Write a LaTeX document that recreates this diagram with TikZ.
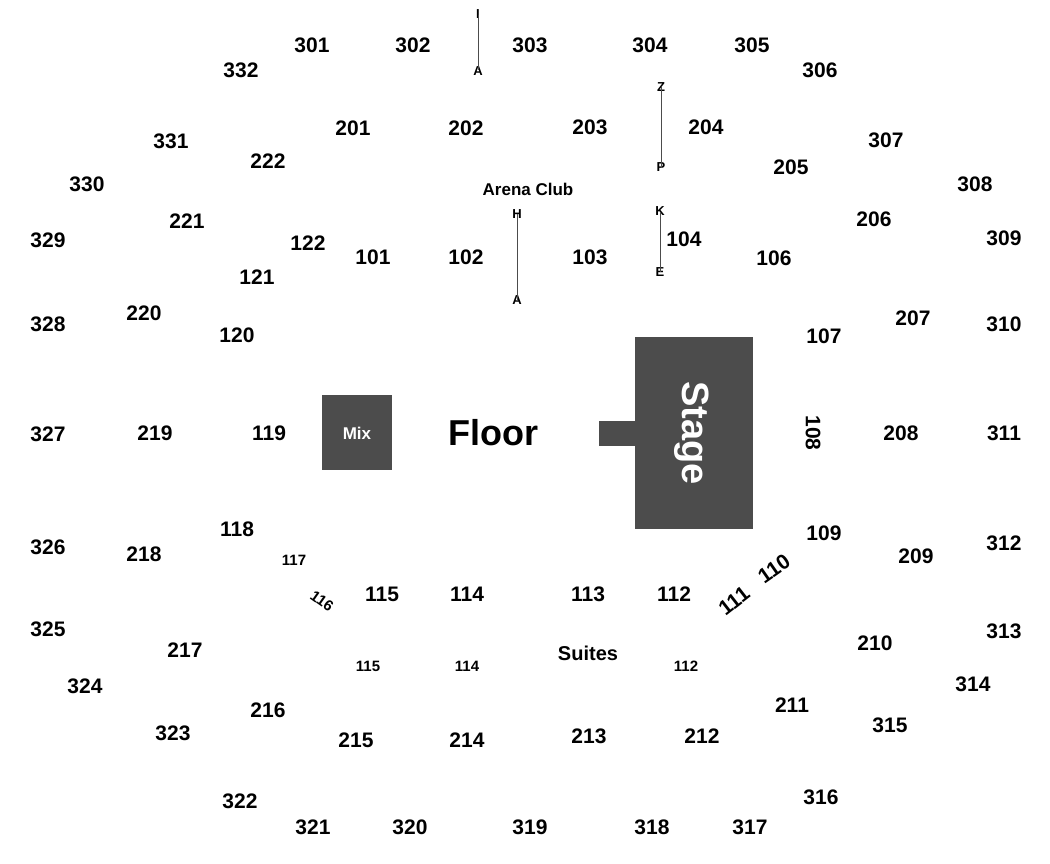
\documentclass[tikz,border=0pt]{standalone}
\usepackage{fontspec}
\setmainfont{Liberation Sans}
\begin{document}
\begin{tikzpicture}[x=1pt,y=-1pt,
  sec/.style={font=\bfseries\fontsize{21}{21}\selectfont,inner sep=0pt},
  sml/.style={font=\bfseries\fontsize{15}{15}\selectfont,inner sep=0pt},
  ltr/.style={font=\bfseries\fontsize{13}{13}\selectfont,inner sep=0pt},
  blk/.style={fill=black!70,draw=none},
  tick/.style={draw=black!70,line width=0.8pt}]
\useasboundingbox (0,0) rectangle (1050,864);
\foreach \t/\x/\y in {301/312/45,302/413/45,303/530/45,304/650/45,305/752/45,306/820/70,332/241/70,
201/353/128,202/466/128,203/590/127,204/706/127,331/171/141,307/886/140,222/268/161,205/791/167,330/87/184,308/975/184,
104/684/239,221/187/221,206/874/219,329/48/240,309/1004/238,122/308/243,101/373/257,102/466/257,103/590/257,106/774/258,121/257/277,
328/48/324,220/144/313,120/237/335,107/824/336,207/913/318,310/1004/324,
327/48/434,219/155/433,119/269/433,208/901/433,311/1004/433,
118/237/529,109/824/533,326/48/547,218/144/554,209/916/556,312/1004/543,
115/382/594,114/467/594,113/588/594,112/674/594,
325/48/629,313/1004/631,217/185/650,210/875/643,
324/85/686,314/973/684,216/268/710,211/792/705,323/173/733,315/890/725,215/356/740,214/467/740,213/589/736,212/702/736,
322/240/801,316/821/797,321/313/827,320/410/827,319/530/827,318/652/827,317/750/827}
  \node[sec] (s\t-\x) at (\x,\y) {\t};
\node[sec,rotate=-90] (s108) at (813,433) {108};
\node[sec,rotate=38] (s111) at (734,601) {111};
\node[sec,rotate=35] (s110) at (774,569) {110};
\node[sml,rotate=-35] (s116) at (322,601) {116};
\node[sml] (s117) at (294,560) {117};
\node[sml] (u115) at (368,666) {115};
\node[sml] (u114) at (467,666) {114};
\node[sml] (u112) at (686,666) {112};
\node[font=\bfseries\fontsize{20}{20}\selectfont,inner sep=0pt] (suites) at (588,653) {Suites};
\node[font=\bfseries\fontsize{17}{17}\selectfont,inner sep=0pt] (club) at (528,189) {Arena Club};
% letters
\node[ltr] (I) at (478,14) {I};
\node[ltr] (A1) at (478,71) {A};
\draw[tick] ([yshift=4pt]I.south) -- ([yshift=-4pt]A1.north);
\node[ltr] (Z) at (661,87) {Z};
\node[ltr] (P) at (661,167) {P};
\draw[tick] ([yshift=5pt]Z.south) -- ([yshift=-6pt]P.north);
\node[ltr] (H) at (517,214) {H};
\node[ltr] (A2) at (517,300) {A};
\draw[tick] ([yshift=5pt]H.south) -- ([yshift=-5pt]A2.north);
\node[ltr] (K) at (660,211) {K};
\node[ltr] (E) at (660,272) {E};
\draw[tick] ([yshift=4pt]K.south) -- ([yshift=-5pt]E.north);
% blocks
\fill[blk] (322,395) rectangle (392,470);
\node[text=white,font=\bfseries\fontsize{17}{17}\selectfont] (mix) at (357,433) {Mix};
\node[font=\bfseries\fontsize{36}{36}\selectfont,inner sep=0pt] (floor) at (493,433) {Floor};
\fill[blk] (635,337) rectangle (753,529);
\fill[blk] (599,421) rectangle (636,446);
\node[text=white,rotate=-90,font=\bfseries\fontsize{38}{38}\selectfont,inner sep=0pt] (stage) at (692,433) {Stage};
\end{tikzpicture}
\end{document}
